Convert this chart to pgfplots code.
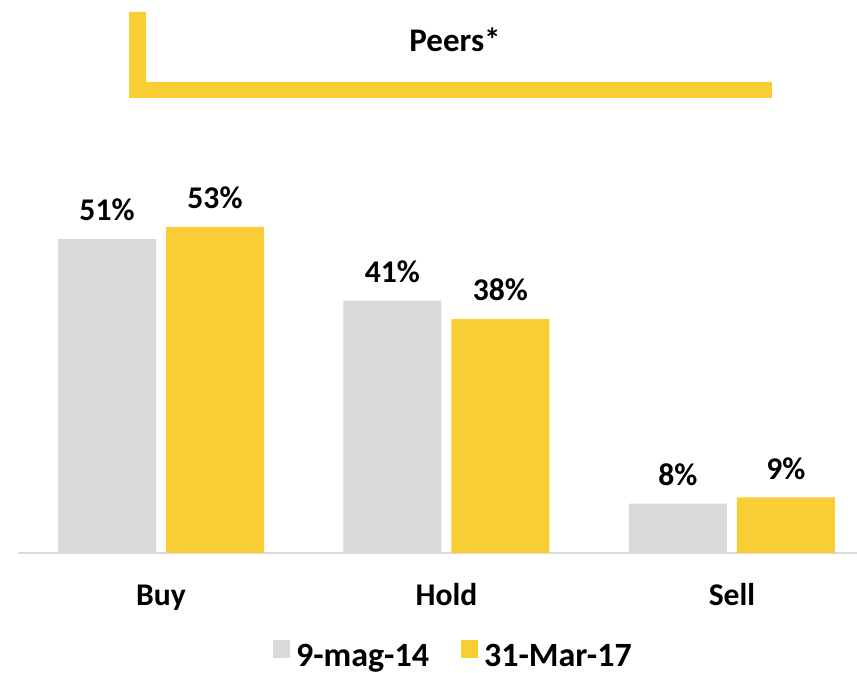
\documentclass[border=0pt]{standalone}
\usepackage{fontspec}
\setmainfont{Carlito}
\usepackage{pgfplots}
\pgfplotsset{compat=1.18}
\definecolor{pgray}{HTML}{D9D9D9}
\definecolor{pyellow}{HTML}{F9CE34}
\begin{document}
\begin{tikzpicture}[font=\fontsize{15.8}{18}\selectfont\bfseries]
\begin{axis}[
  x=142.75pt, y=3.075pt,
  xmin=-0.5, xmax=2.438, ymin=0, ymax=89.9,
  ybar=5pt, bar width=49pt,
  axis x line*=bottom, axis y line=none,
  x axis line style={draw=pgray, line width=1pt, -},
  xtick={0,1,2}, xticklabels={Buy,Hold,Sell},
  major tick length=0pt,
  xticklabel style={anchor=base, yshift=-26.5pt},
  ytick=\empty,
  clip=false,
  /pgf/number format/assume math mode=true,
  nodes near coords={\pgfmathprintnumber{\pgfplotspointmeta}\%},
  every node near coord/.append style={anchor=south, yshift=5.5pt, text=black},
  legend columns=2,
  legend style={draw=none, fill=none, at={(axis description cs:0.52,-0.188)}, anchor=center,
    font=\fontsize{17}{19}\selectfont\bfseries,
    /tikz/every odd column/.append style={column sep=1pt},
    /tikz/every even column/.append style={column sep=14pt}},
  legend image code/.code={\fill[#1] (0pt,-0.5pt) rectangle (8.5pt,8.5pt);},
]
\addplot[fill=pgray, draw=none] coordinates {(0,51) (1,41) (2,8)};
\addplot[fill=pyellow, draw=none] coordinates {(0,53) (1,38) (2,9)};
\legend{9-mag-14, 31-Mar-17}
\fill[pyellow] (axis cs:-0.112,87.97) -- (axis cs:-0.0525,87.97) -- (axis cs:-0.0525,76.6)
  -- (axis cs:2.140,76.6) -- (axis cs:2.140,73.98) -- (axis cs:-0.112,73.98) -- cycle;
\node[anchor=base, font=\fontsize{16.5}{18}\selectfont\bfseries] at (axis cs:1.03,81.5) {Peers*};
\coordinate (bb1) at (axis cs:-0.564,-19.5);
\coordinate (bb2) at (axis cs:2.438,89.9);
\end{axis}
\pgfresetboundingbox
\useasboundingbox (bb1) rectangle (bb2);
\end{tikzpicture}
\end{document}
